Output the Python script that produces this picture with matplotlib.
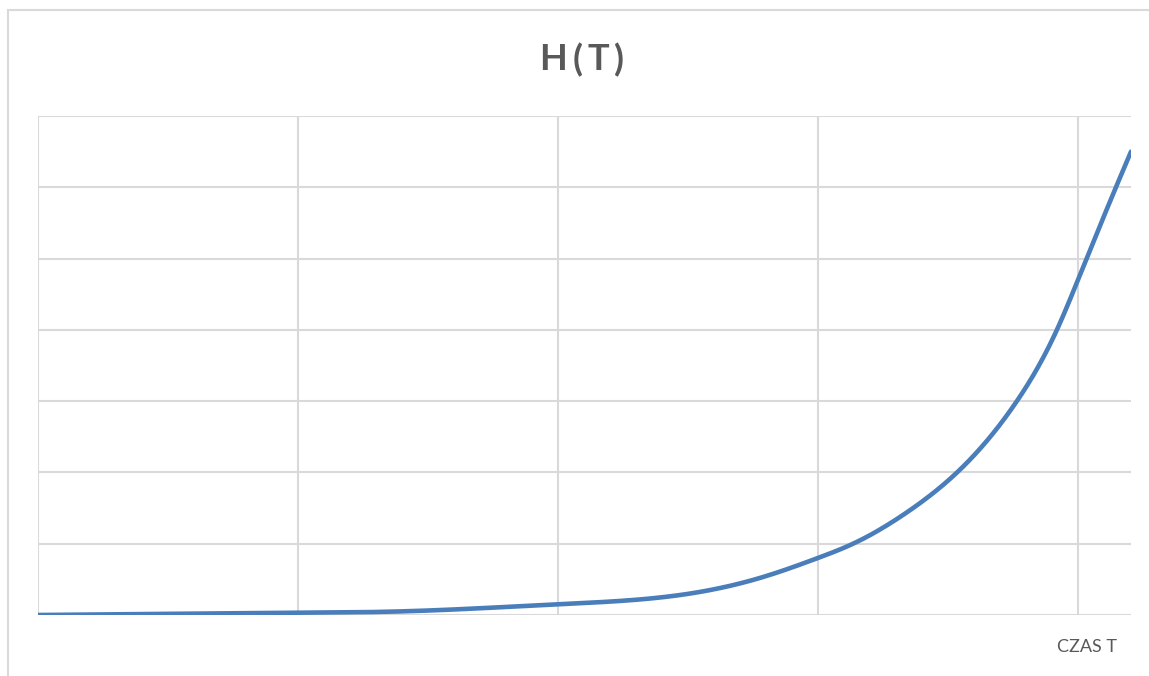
from matplotlib import pyplot as plt
from matplotlib.patches import Rectangle
import numpy as np

# time T (grid units) and H(T) values
czas_t = [0, 1.0, 1.392, 2.0, 2.162, 2.469, 2.777, 3.0, 3.135, 3.342, 3.535, 3.765, 3.919, 4.0, 4.146, 4.204]
h_t = [0, 0.03, 0.05, 0.15, 0.18, 0.28, 0.52, 0.80, 1.0, 1.44, 2.0, 3.0, 4.0, 4.70, 6.0, 6.5]

x_grid = [0, 1, 2, 3, 4]
y_grid = [0, 1, 2, 3, 4, 5, 6, 7]

grid_color = '#d9d9d9'
text_color = '#595959'
line_color = '#4a7ebb'


def smooth_line(xs, ys, steps=30):
    # natural cubic spline through the points -> smoothed series line
    x = np.asarray(xs, float)
    y = np.asarray(ys, float)
    n = len(x)
    h = np.diff(x)
    A = np.zeros((n, n))
    b = np.zeros(n)
    A[0, 0] = A[-1, -1] = 1
    for i in range(1, n - 1):
        A[i, i - 1] = h[i - 1]
        A[i, i] = 2 * (h[i - 1] + h[i])
        A[i, i + 1] = h[i]
        b[i] = 6 * ((y[i + 1] - y[i]) / h[i] - (y[i] - y[i - 1]) / h[i - 1])
    M = np.linalg.solve(A, b)
    out_x, out_y = [], []
    for i in range(n - 1):
        t = np.linspace(x[i], x[i + 1], steps, endpoint=False)
        a = x[i + 1] - t
        c = t - x[i]
        s = (M[i] * a ** 3 + M[i + 1] * c ** 3) / (6 * h[i]) \
            + (y[i] / h[i] - M[i] * h[i] / 6) * a \
            + (y[i + 1] / h[i] - M[i + 1] * h[i] / 6) * c
        out_x.append(t)
        out_y.append(s)
    out_x.append([x[-1]])
    out_y.append([y[-1]])
    return np.concatenate(out_x), np.concatenate(out_y)


fig = plt.figure(figsize=(11.49, 6.76), dpi=100)
fig.patch.set_facecolor('white')

# chart border (left and top only, rest runs off the canvas)
fig.patches.append(Rectangle((8 / 1149, -0.2), 1.5, 1.2 - 10 / 676,
                             transform=fig.transFigure, fill=False,
                             edgecolor=grid_color, linewidth=1.5))

ax = fig.add_axes([38 / 1149, 61 / 676, 1093 / 1149, 499 / 676])
sx, sy = smooth_line(czas_t, h_t)
ax.plot(sx, sy, color=line_color, linewidth=3.3, solid_capstyle='round',
        solid_joinstyle='round', zorder=3)

ax.set_xlim(0, 4.204)
ax.set_ylim(0, 7)
ax.set_xticks(x_grid)
ax.set_yticks(y_grid)
ax.tick_params(length=0, labelbottom=False, labelleft=False)
ax.grid(True, color=grid_color, linewidth=1.5)
for s in ax.spines.values():
    s.set_visible(False)

# title with wide letter spacing
title_chars = ['H', '(', 'T', ')']
title_x = [553, 578, 598, 619]
for ch, px in zip(title_chars, title_x):
    fig.text(px / 1149, 1 - 60 / 676, ch, ha='center', va='center',
             fontsize=26, fontweight='bold', color=text_color, family='Lato')
fig.text(1087 / 1149, 1 - 647 / 676, 'CZAS T', ha='center', va='center',
         fontsize=13, color=text_color, family='Lato')

plt.savefig('out.png', dpi=100)
